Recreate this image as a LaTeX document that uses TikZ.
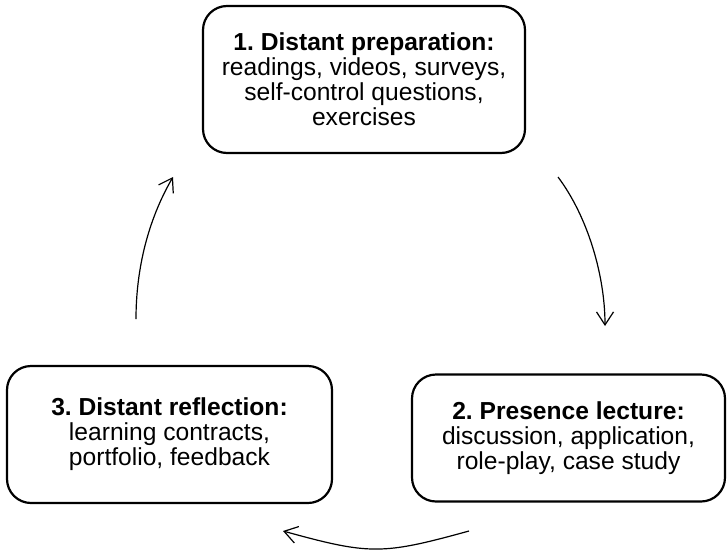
\documentclass[tikz,border=0pt]{standalone}
\usepackage{fontspec}
\setmainfont{Liberation Sans}
\usetikzlibrary{arrows.meta}
\frenchspacing
\tikzset{
  stagebox/.style={draw=black, line width=2.2pt, rounded corners=24pt, align=center,
    font=\fontsize{24.6}{25}\selectfont, inner sep=0pt},
  cyclearrow/.style={line width=1.2pt, -{Straight Barb[length=13pt,width=17pt,line width=1.2pt]}}
}
\begin{document}
\begin{tikzpicture}[x=1pt,y=-1pt]
\useasboundingbox (0,0) rectangle (727,552);
\node[stagebox, minimum width=322pt, minimum height=147pt] (prep) at (364,79.5)
  {\textbf{1. Distant preparation:}\\readings, videos, surveys,\\self-control questions,\\exercises};
\node[stagebox, minimum width=313pt, minimum height=127pt] (lect) at (568.5,438)
  {\textbf{2. Presence lecture:}\\discussion, application,\\role-play, case study};
\node[stagebox, minimum width=325pt, minimum height=137pt] (refl) at (169.5,434.5)
  {\textbf{3. Distant reflection:}\\learning contracts,\\portfolio, feedback};
\coordinate (a1s) at (558,177);
\coordinate (a1e) at (605,326);
\coordinate (a2s) at (469,531);
\coordinate (a2e) at (283,531);
\coordinate (a3s) at (136,319);
\coordinate (a3e) at (173,177);
\draw[cyclearrow] (a1s) .. controls (588,217) and (605,276) .. (a1e);
\draw[cyclearrow] (a2s) .. controls (382,555) and (370,555) .. (a2e);
\draw[cyclearrow] (a3s) .. controls (136,269) and (148,220) .. (a3e);
\end{tikzpicture}
\end{document}
